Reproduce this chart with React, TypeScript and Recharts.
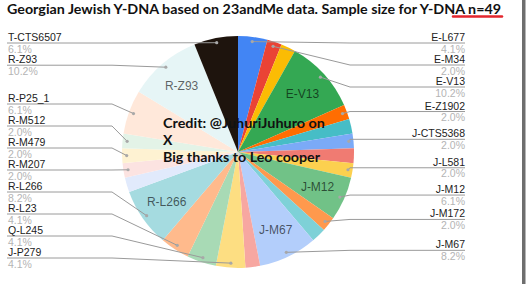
import React from 'react';
import { PieChart, Pie, Cell } from 'recharts';

// Haplogroups in the sheet's (alphabetical) order, clockwise from 12 o'clock
const haplogroups = [
  'E-L677', 'E-M34', 'E-M78', 'E-V13', 'E-Z1902', 'G-L497', 'J-CTS5368', 'J-L24',
  'J-L581', 'J-M12', 'J-M172', 'J-M410', 'J-M67', 'J-M92', 'J-P279', 'Q-L245',
  'R-L23', 'R-L266', 'R-M124', 'R-M207', 'R-M479', 'R-M512', 'R-P25_1', 'R-Z93', 'T-CTS6507',
];
// number of testers (n = 49)
const counts = [2, 1, 1, 5, 1, 1, 1, 1, 1, 3, 1, 1, 4, 1, 2, 2, 2, 4, 1, 1, 1, 1, 3, 5, 3];

const colors = [
  '#4285F4', '#EA4335', '#FBBC04', '#34A853', '#FF6D01', '#46BDC6', '#7BAAF7', '#F07B72',
  '#FCD04F', '#71C287', '#FF994D', '#7ED1D7', '#B3CEFB', '#F7A7A1', '#FDDE82', '#A8DAB5',
  '#FFBA8C', '#A5DBE0', '#E1EAFC', '#FCE3E1', '#FEF2D2', '#E3F3E7', '#FFE8DA', '#E6F5F6', '#1E140D',
];

// labels shown outside the pie
const outsideLabels = [
  'E-L677', 'E-M34', 'E-V13', 'E-Z1902', 'J-CTS5368', 'J-L581', 'J-M12', 'J-M172', 'J-M67',
  'J-P279', 'Q-L245', 'R-L23', 'R-L266', 'R-M207', 'R-M479', 'R-M512', 'R-P25_1', 'R-Z93', 'T-CTS6507',
];
// labels shown inside slices
const insideLabels = ['E-V13', 'J-M12', 'J-M67', 'R-L266', 'R-Z93'];

const titleText = 'Georgian Jewish Y-DNA based on 23andMe data. Sample size for Y-DNA n=49';
const creditLines = ['Credit: @JuhuriJuhuro on', 'X', 'Big thanks to Leo cooper'];

const data = haplogroups.map((name, i) => ({ name, value: counts[i] }));

const W = 528;
const H = 306;
const CX = 238;
const CY = 152;
const OR = 116;
const DOT = 0.96;
const RAD = Math.PI / 180;
const GAP = 22;
const TOP = 43;
const BOTTOM = 258;
const LEFT_X = 8;
const RIGHT_X = 465;

// label layout (spread labels vertically on each side)
const total = counts.reduce((a, b) => a + b, 0);
const layout: Record<string, { side: string; y: number }> = {};
(() => {
  let cum = 0;
  const items: { name: string; side: string; ny: number; ang: number }[] = [];
  counts.forEach((v, i) => {
    const ang = ((cum + v / 2) / total) * 360; // clockwise from top
    cum += v;
    const name = haplogroups[i];
    if (!outsideLabels.includes(name)) return;
    const side = Math.sin(ang * RAD) >= 0 ? 'right' : 'left';
    const ny = CY - OR * DOT * Math.cos(ang * RAD) - 2;
    items.push({ name, side, ny, ang });
  });
  ['left', 'right'].forEach((side) => {
    const list = items.filter((it) => it.side === side).sort((a, b) => a.ny - b.ny);
    const ys = list.map((it) => it.ny);
    for (let i = 0; i < ys.length; i++) {
      ys[i] = i === 0 ? Math.max(ys[i], TOP) : Math.max(ys[i], ys[i - 1] + GAP);
    }
    for (let i = ys.length - 1; i >= 0; i--) {
      ys[i] = i === ys.length - 1 ? Math.min(ys[i], BOTTOM) : Math.min(ys[i], ys[i + 1] - GAP);
    }
    list.forEach((it, i) => {
      layout[it.name] = { side, y: ys[i] };
    });
  });
})();

const labelFont = "Arial, 'Liberation Sans', sans-serif";
const creditFont = "Lato, 'Open Sans', sans-serif";

function renderLabel(props: any) {
  const { cx, cy, midAngle, outerRadius, percent, name } = props;
  const a = -midAngle * RAD;
  const els: any[] = [];
  if (insideLabels.includes(name)) {
    const ix = cx + outerRadius * 0.75 * Math.cos(a);
    const iy = cy + outerRadius * 0.75 * Math.sin(a);
    els.push(
      <text key="in" x={ix} y={iy} textAnchor="middle" dominantBaseline="central"
        fontFamily={labelFont} fontSize={12} fill="#000" fillOpacity={0.62}>
        {name}
      </text>
    );
  }
  const lay = layout[name];
  if (lay) {
    const dx = cx + outerRadius * DOT * Math.cos(a);
    const dy = cy + outerRadius * DOT * Math.sin(a);
    const right = lay.side === 'right';
    const bendX = right ? Math.max(dx, cx + outerRadius - 4) : Math.min(dx, cx - outerRadius - 10);
    const endX = right ? RIGHT_X : LEFT_X - 1;
    const ly = lay.y;
    els.push(
      <polyline key="ln" points={`${dx},${dy} ${bendX},${ly} ${endX},${ly}`}
        fill="none" stroke="#9a9a9a" strokeWidth={1} />
    );
    els.push(<circle key="dot" cx={dx} cy={dy} r={1.6} fill="#a8a8a8" />);
    const tx = right ? RIGHT_X : LEFT_X;
    const anchor = right ? 'end' : 'start';
    els.push(
      <text key="nm" x={tx} y={ly - 2} textAnchor={anchor} fontFamily={labelFont}
        fontSize={10.5} fill="#222">
        {name}
      </text>
    );
    els.push(
      <text key="pc" x={tx} y={ly + 9.5} textAnchor={anchor} fontFamily={labelFont}
        fontSize={10.5} fill="#b4b4b4">
        {`${(percent * 100).toFixed(1)}%`}
      </text>
    );
  }
  if (!els.length) return null;
  return <g>{els}</g>;
}

export default function App() {
  return (
    <div style={{ position: 'absolute', left: 0, top: 0, width: W, height: H, background: '#fff' }}>
      <div style={{ position: 'absolute', left: 0, top: 0 }}>
        <PieChart width={W} height={H} margin={{ top: 0, right: 0, bottom: 0, left: 0 }}>
          <Pie
            data={data}
            dataKey="value"
            nameKey="name"
            cx={CX}
            cy={CY}
            outerRadius={OR}
            startAngle={90}
            endAngle={-270}
            stroke="none"
            isAnimationActive={false}
            label={renderLabel}
            labelLine={false}
          >
            {data.map((d, i) => (
              <Cell key={d.name} fill={colors[i]} />
            ))}
          </Pie>
        </PieChart>
      </div>
      <svg width={W} height={H} style={{ position: 'absolute', left: 0, top: 0, pointerEvents: 'none' }}>
        <text x={7} y={14} fontFamily={creditFont} fontWeight={700} fontSize={13.5}
          fill="#111" textLength={494} lengthAdjust="spacingAndGlyphs">
          {titleText}
        </text>
        <line x1={453} y1={16.5} x2={502} y2={16.5} stroke="#e3262e" strokeWidth={2.5} strokeLinecap="round" />
        <rect x={522} y={0} width={3.5} height={284} fill="#6e6e6e" />
        <text x={163} y={128} fontFamily={creditFont} fontWeight={700} fontSize={14}
          fill="#111" textLength={162} lengthAdjust="spacingAndGlyphs">
          {creditLines[0]}
        </text>
        <text x={163} y={145} fontFamily={creditFont} fontWeight={700} fontSize={14} fill="#111">
          {creditLines[1]}
        </text>
        <text x={163} y={162} fontFamily={creditFont} fontWeight={700} fontSize={14}
          fill="#111" textLength={157} lengthAdjust="spacingAndGlyphs">
          {creditLines[2]}
        </text>
      </svg>
    </div>
  );
}
